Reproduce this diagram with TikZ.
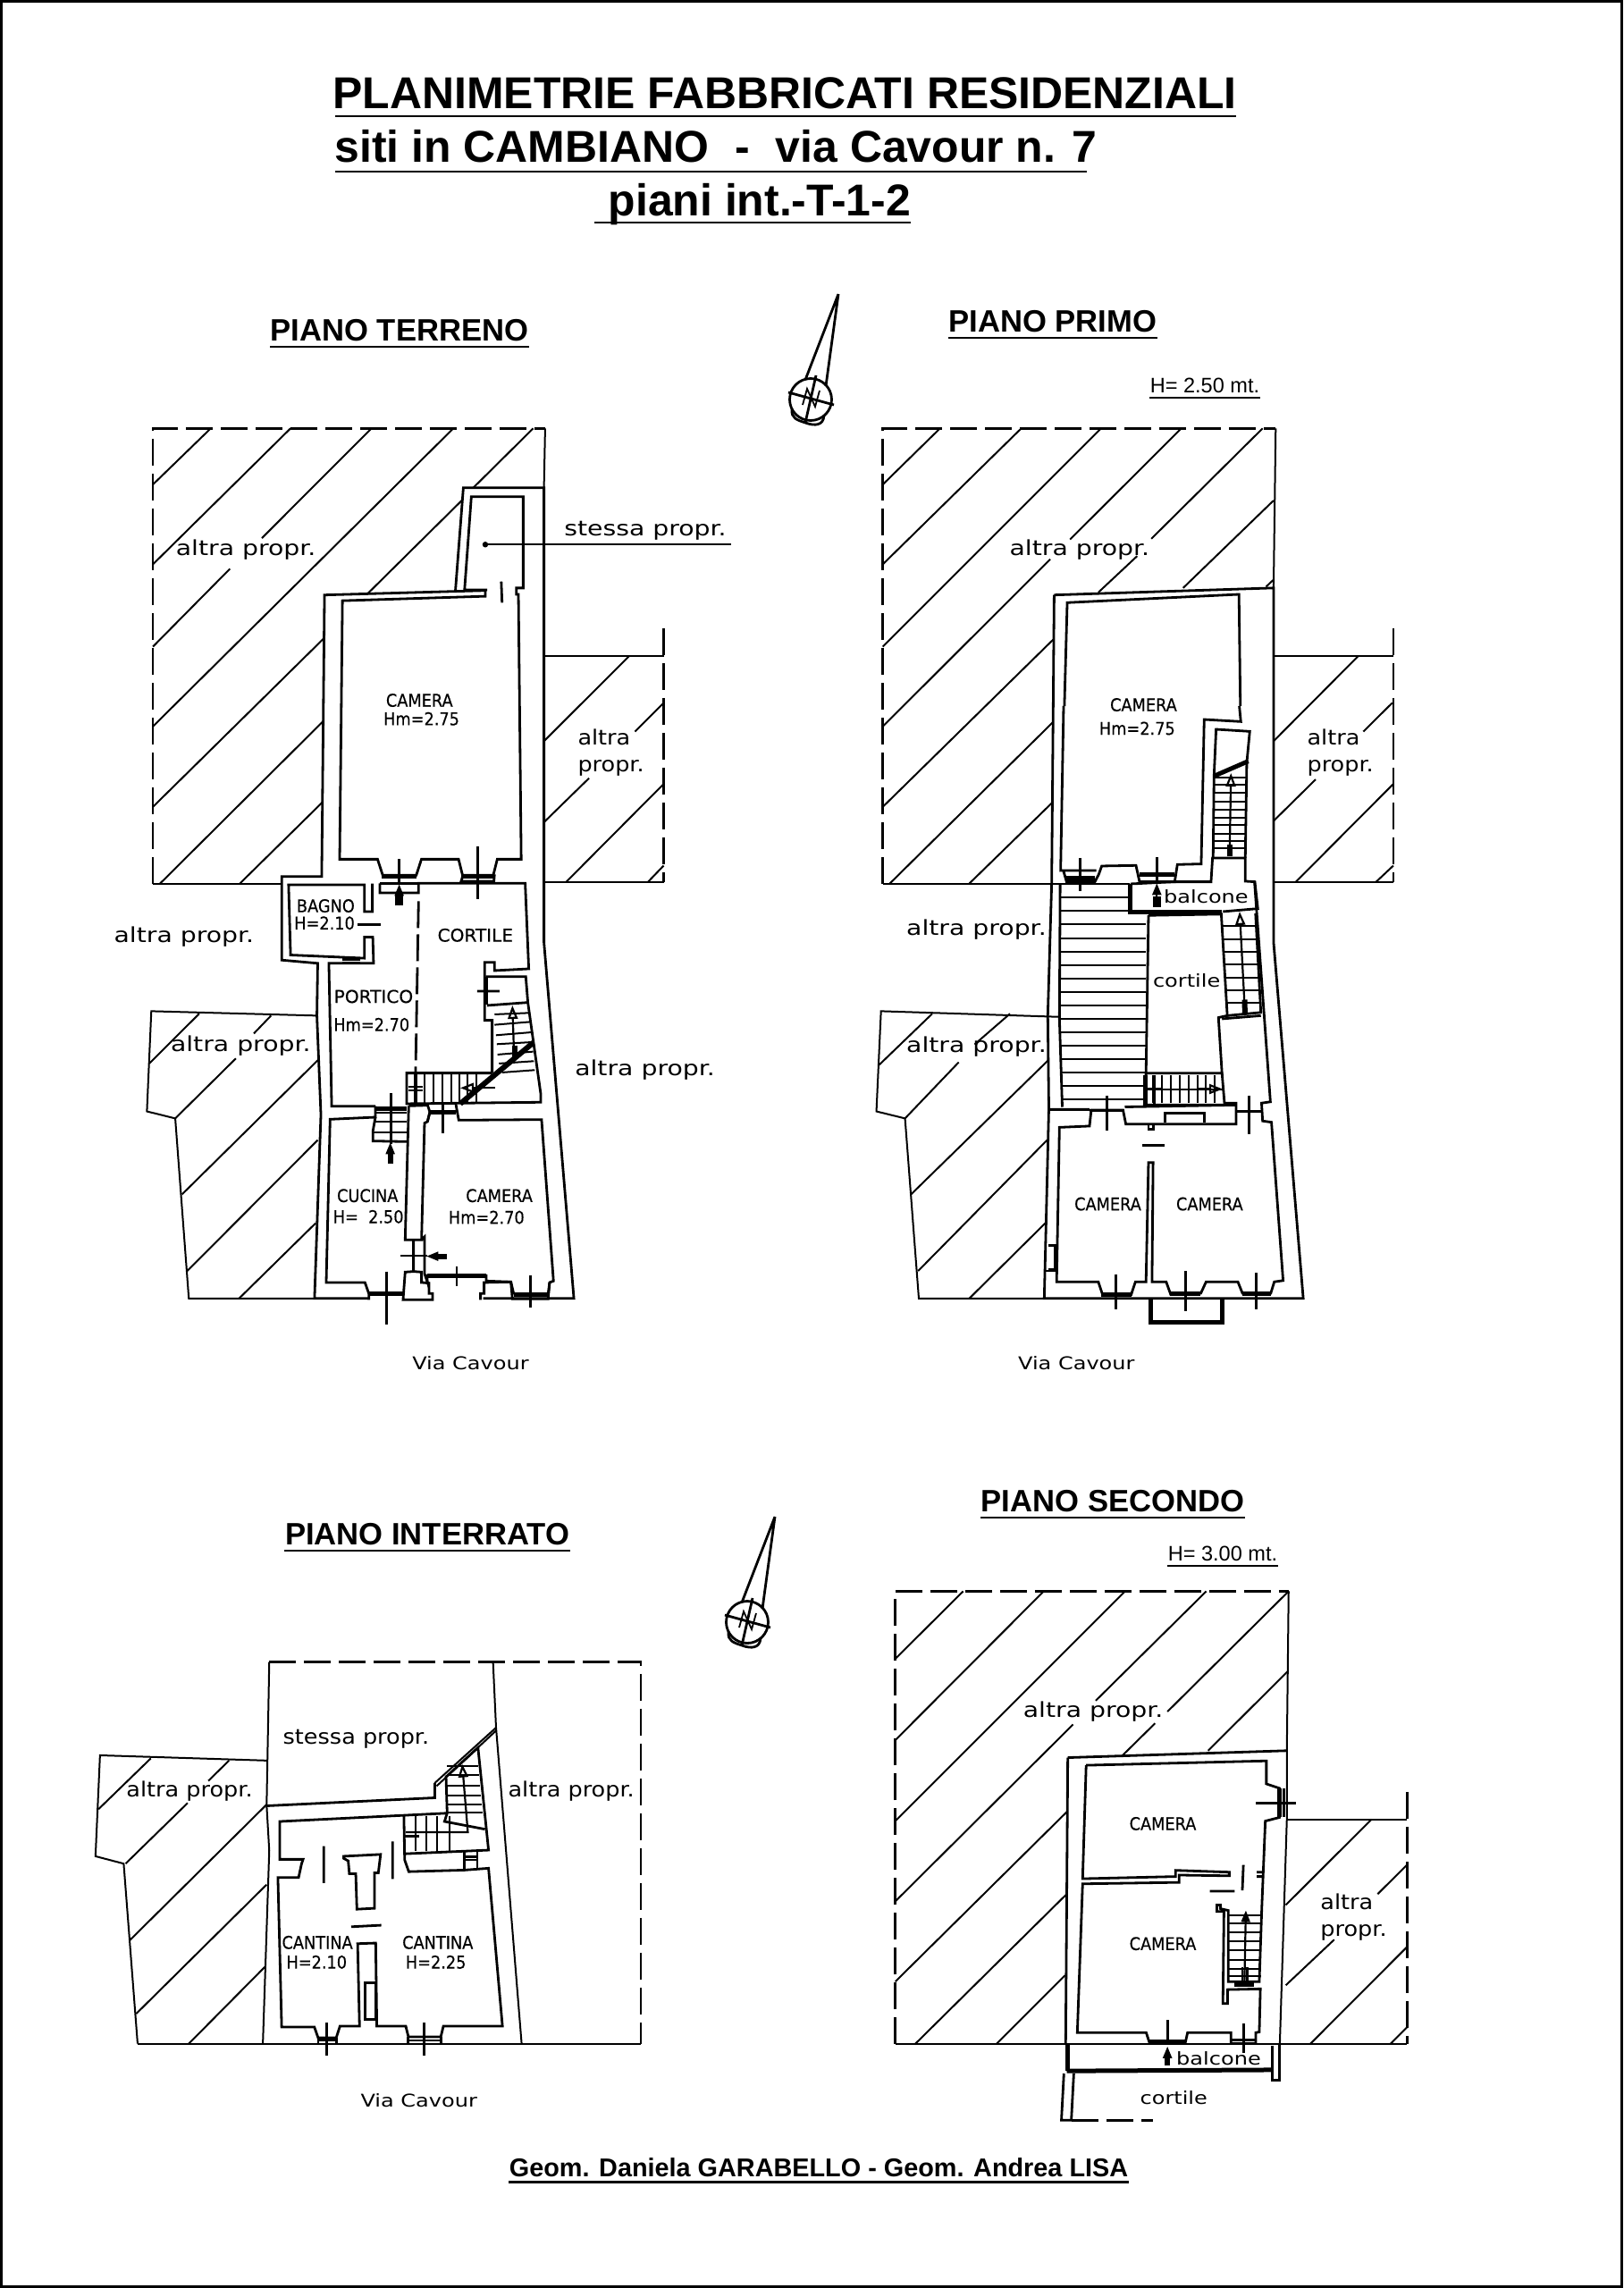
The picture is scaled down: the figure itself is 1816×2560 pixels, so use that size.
\documentclass[tikz,border=0pt]{standalone}
\usepackage{fontspec}
\setmainfont{Liberation Sans}
\newfontfamily\cadlarga[FakeStretch=1.22]{DejaVu Sans}
\newfontfamily\cadmedia[FakeStretch=1.1]{DejaVu Sans}
\newfontfamily\cadcaps[FakeStretch=1.02,FakeBold=0.3]{DejaVu Sans}
\newfontfamily\cadstretta[FakeStretch=0.9,FakeBold=0.3]{DejaVu Sans}
\usetikzlibrary{positioning,arrows.meta}
\tikzset{
  hatch/.style={line width=0.2mm},
  muro/.style={line width=0.28mm, line join=miter},
  spesso/.style={line width=0.5mm},
  confine/.style={line width=0.26mm, dash pattern=on 3mm off 0.9mm},
  scala/.style={line width=0.2mm},
  blocco/.style={line width=0.9mm},
  frecciaV/.style={line width=0.22mm, -{Triangle[open,length=1.5mm,width=1.1mm]}},
  frecciaP/.style={line width=0.22mm, -{Triangle[length=1.3mm,width=1mm]}},
  etic/.style={inner sep=0pt, font=\cadlarga\fontsize{6.6}{7}\selectfont},
  eticM/.style={inner sep=0pt, font=\cadmedia\fontsize{6.6}{7}\selectfont},
  eticP/.style={inner sep=0pt, font=\cadlarga\fontsize{5.6}{6}\selectfont},
  eticC/.style={inner sep=0pt, font=\cadcaps\fontsize{5.6}{6}\selectfont},
  eticS/.style={inner sep=0pt, font=\cadstretta\fontsize{5.6}{6}\selectfont},
  titolo/.style={inner sep=0pt, anchor=base west, font=\bfseries\fontsize{14.2}{16}\selectfont},
  piano/.style={inner sep=0pt, font=\bfseries\fontsize{9.85}{12}\selectfont},
  quota/.style={inner sep=0pt, font=\fontsize{6.7}{8}\selectfont},
}
\newcommand{\nordfreccia}[2]{
  \begin{scope}[shift={(#1,#2)}, line width=0.28mm]
    \draw (938,329) -- (901,425) (938,329) -- (924,432);
    \draw (907,447) circle (23.5);
    \draw (913,420) -- (901,473) (882,439) -- (933,453);
    \draw[line width=0.18mm] (898,453) -- (903,435) -- (912,455) -- (917,437);
    \draw (886,458) .. controls (885,468) and (892,470) .. (901,473) .. controls (912,477) and (921,476) .. (922,465);
  \end{scope}}
\begin{document}
\begin{tikzpicture}[x=0.1mm,y=-0.1mm]
\useasboundingbox (0,0) rectangle (1816,2560);
\draw[line width=0.25mm] (1.5,1.5) rectangle (1814.5,2558.5);

\node[titolo] (tit1) at (372,121) {PLANIMETRIE FABBRICATI RESIDENZIALI};
\node[titolo] (tit2) at (374,181) {siti in CAMBIANO\hspace{0.58em}-\hspace{0.58em}via Cavour n. 7};
\node[titolo] (tit3) at (680,241) {piani int.-T-1-2};
\coordinate (tit3a) at (665,249);
\draw[line width=0.25mm] (375,130) -- (1383,130);
\draw[line width=0.25mm] (375,192) -- (1216,192);
\draw[line width=0.25mm] (tit3a) -- (1019,249);

\node[piano] (pTerreno) at (447,370) {PIANO TERRENO};
\node[piano] (pPrimo) at (1178,360) {PIANO PRIMO};
\node[piano] (pInterrato) at (478,1717) {PIANO INTERRATO};
\node[piano] (pSecondo) at (1245,1680) {PIANO SECONDO};
\node[quota] (h1) at (1348,431) {H= 2.50 mt.};
\node[quota] (h2) at (1368,1738) {H= 3.00 mt.};
\node[piano,font=\bfseries\fontsize{8.2}{10}\selectfont] (firma) at (916,2425) {Geom. Daniela GARABELLO - Geom. Andrea LISA};
\foreach \n in {pTerreno,pPrimo,pInterrato,pSecondo,h1,h2,firma}
  \draw[line width=0.22mm] ([yshift=-1.5]\n.south west) -- ([yshift=-1.5]\n.south east);

\nordfreccia{0}{0}
\nordfreccia{-71}{1368}

% piano terreno
\begin{scope}[shift={(130,440)},x=0.04464mm,y=-0.07143mm]
\draw[confine] (92,768) -- (92,55) -- (1075,55);
\draw[hatch] (92,768) -- (415,768);
\draw[hatch] (1075,55) -- (1072,148);
\draw[hatch] (92,143) -- (237,55) (92,268) -- (437,55) (92,397) -- (285,275) (365,227) -- (640,55)
  (92,522) -- (845,55) (92,648) -- (522,383) (630,314) -- (866,168) (895,148) -- (1045,55)
  (110,768) -- (520,513) (310,768) -- (518,640);
\draw[hatch] (1072,412) -- (1372,412) (1072,766) -- (1372,766);
\draw[confine] (1372,368) -- (1372,766);
\draw[hatch] (1072,545) -- (1285,412) (1072,672) -- (1185,603) (1300,530) -- (1372,485) (1127,766) -- (1372,612) (1332,766) -- (1372,740);
\draw[hatch] (503,975) -- (88,968) -- (77,1125) -- (148,1136) -- (182,1418) -- (497,1418);
\draw[hatch] (83,1050) -- (208,972) (148,1136) -- (300,1042) (345,1003) -- (388,975)
  (165,1255) -- (505,1045) (178,1375) -- (505,1170) (308,1418) -- (500,1300);
% muri esterni
\draw[muro] (850,310) -- (870,148) -- (1072,148) -- (1072,860) -- (1147,1418) -- (920,1418);
\draw[muro] (925,309) -- (522,316) -- (515,757) -- (415,757) -- (415,888) -- (505,893) -- (503,975) -- (513,1130) -- (497,1418) -- (632,1418);
\draw[muro] (925,309) -- (925,318) -- (567,325) -- (560,730) -- (655,730) -- (668,755) -- (752,755) -- (765,730) -- (858,730) -- (868,755) -- (945,755) -- (955,730) -- (1015,730) -- (1008,315) -- (1003,315) -- (1003,305) -- (1020,305) -- (1020,162) -- (890,162) -- (873,308) -- (930,308);
\draw[muro] (965,295) -- (967,328);
% bagno
\draw[muro] (642,768) -- (642,812) -- (622,812) -- (622,770) -- (432,770) -- (437,880) -- (622,885) -- (622,852) -- (643,852) -- (645,893) -- (533,893) -- (540,1117) -- (650,1117);
\draw[muro] (605,832) -- (663,832);
\draw[muro] (709,730) -- (709,770) (906,710) -- (906,793);
\draw[fill=black] (925,237) circle (5.5 and 3.5);
\draw[hatch] (925,237) -- (1540,237);
\node[eticS] (tCam1) at (760,481) {CAMERA};
\node[eticS] (tHm1) at (765,510) {Hm=2.75};
\node[eticS] (tBag) at (525,803) {BAGNO};
\node[eticS] (tH1) at (522,830) {H=2.10};
\node[eticC] (tCor1) at (900,849) {CORTILE};
\node[eticC] (tPor) at (645,945) {PORTICO};
\node[eticS] (tHm2) at (640,989) {Hm=2.70};
\node[eticS] (tCuc) at (630,1257) {CUCINA};
\node[eticS] (tH2) at (632,1290) {H=\ \ 2.50};
\node[eticS] (tCam2) at (960,1257) {CAMERA};
\node[eticS] (tHm3) at (928,1291) {Hm=2.70};
\node[etic] (tSte1) at (1326,215) {stessa propr.};
\node[etic] (tAl1) at (325,245) {altra propr.};
\node[eticM,align=left] (tAl2) at (1240,563) {altra\\[1.5pt]propr.};
\node[etic] (tAl3) at (170,851) {altra propr.};
\node[etic] (tAl4) at (312,1022) {altra propr.};
\node[etic] (tAl5) at (1325,1060) {altra propr.};
\node[eticP] (tVia1) at (888,1520) {Via Cavour};
\end{scope}

% piano terreno, cortile e scale
\begin{scope}[shift={(340,960)},x=0.03333mm,y=-0.03333mm]
\draw[muro] (255,85) -- (255,117) -- (385,117) -- (385,85) -- (743,85) -- (755,372) -- (640,378) -- (640,350) -- (607,350) -- (607,545) -- (632,545) -- (632,722);
\draw[muro] (255,85) -- (385,85);
\draw[muro,dash pattern=on 3mm off 0.7mm] (385,145) -- (375,720);
\draw[scala] (130,335) -- (190,335) (130,343) -- (190,343) (130,350) -- (190,350);
\draw[spesso] (262,62) -- (378,62) (535,62) -- (636,62);
\draw[muro] (535,55) -- (528,78) -- (638,78) -- (640,55);
\draw[frecciaP] (320,160) -- (320,88);
\draw[blocco] (320,160) -- (320,125);
\draw[muro] (610,398) -- (745,398) -- (752,485) -- (795,790) -- (795,820) -- (345,825) -- (345,722) -- (632,722);
\draw[muro] (615,495) -- (752,485) (582,447) -- (657,447);
\draw[line width=0.45mm] (610,400) -- (610,492);
\foreach \xa/\ya/\xb/\yb in {640/525/757/520,640/560/762/550,645/595/765/585,648/625/768/618,650/660/770/650,655/690/772/682,665/720/775/712}
  \draw[scala] (\xa,\ya) -- (\xb,\yb);
\draw[frecciaV] (706,670) -- (700,495);
\draw[blocco,line width=0.6mm] (709,630) -- (709,672);
\draw[line width=0.6mm] (525,825) -- (770,620);
\foreach \x in {405,435,465,495,522,550,580}
  \draw[scala] (\x,722) -- (\x,825);
\draw[line width=0.4mm] (375,722) -- (375,825);
\draw[scala] (350,768) -- (400,768) (350,780) -- (400,780);
\draw[frecciaV] (642,772) -- (525,772);
\end{scope}

% piano terreno, cucina e camera
\begin{scope}[shift={(340,1200)},x=0.03333mm,y=-0.03333mm]
\draw[muro] (240,113) -- (240,150) -- (88,157) -- (75,705) -- (205,705) -- (218,742) -- (218,763);
\draw[spesso] (240,122) -- (345,122);
\draw[scala] (240,135) -- (345,135);
\draw[muro] (240,150) -- (232,195) -- (232,230) -- (345,232);
\draw[scala] (236,165) -- (345,165) (234,200) -- (345,200);
\draw[muro] (292,70) -- (292,240);
\draw[frecciaP] (290,305) -- (290,235);
\draw[blocco,line width=0.6mm] (290,305) -- (290,270);
\draw[muro] (352,112) -- (340,562) -- (395,562) -- (405,170) -- (415,165) -- (423,133) -- (415,108) (510,105) -- (515,133) -- (520,160) -- (798,158) -- (838,700) -- (825,705) -- (820,760) -- (700,760) -- (695,703) -- (612,700) -- (612,682) -- (413,682) -- (415,705) -- (405,675) -- (405,552) -- (395,562);
\draw[muro] (352,112) -- (415,110) (423,133) -- (415,165);
\draw[muro] (368,562) -- (368,668) -- (340,670) -- (333,763) -- (432,763) -- (432,742) -- (420,742) -- (420,707) -- (395,705) -- (395,670) -- (368,668);
\draw[muro] (593,763) -- (593,742) -- (605,742) -- (605,705) -- (695,703) (705,745) -- (695,703) (825,705) -- (820,745);
\draw[muro] (325,615) -- (415,615) (466,100) -- (466,205) (513,652) -- (513,718) (760,680) -- (760,790) (277,668) -- (277,845);
\draw[frecciaP] (480,617) -- (412,617);
\draw[blocco,line width=0.6mm] (480,617) -- (445,617);
\draw[spesso] (423,132) -- (510,132) (218,742) -- (333,742) (415,682) -- (612,682) (705,745) -- (820,745);
\end{scope}

% piano primo
\begin{scope}[shift={(960,440)},x=0.03954mm,y=-0.07143mm]
\draw[confine] (70,768) -- (70,55) -- (1182,55);
\draw[hatch] (70,768) -- (770,768);
\draw[hatch] (1182,55) -- (1176,305);
\draw[hatch] (70,143) -- (232,55) (70,268) -- (462,55) (70,397) -- (688,55) (70,522) -- (544,260) (600,229) -- (915,55)
  (70,648) -- (552,386) (680,312) -- (790,255) (830,228) -- (1145,55) (90,768) -- (552,515) (315,768) -- (552,640)
  (920,305) -- (1176,168) (1155,303) -- (1176,292);
\draw[hatch] (1176,412) -- (1515,412) (1176,766) -- (1515,766);
\draw[confine] (1515,368) -- (1515,766);
\draw[hatch] (1176,545) -- (1415,412) (1176,670) -- (1295,605) (1430,530) -- (1512,485) (1238,766) -- (1515,612) (1465,766) -- (1515,740);
\draw[hatch] (572,977) -- (65,968) -- (52,1125) -- (133,1136) -- (172,1418) -- (527,1418);
\draw[hatch] (60,1052) -- (210,972) (133,1136) -- (285,1048) (330,1020) -- (430,972) (150,1255) -- (538,1045) (170,1375) -- (535,1170) (315,1418) -- (530,1300);
% muri esterni
\draw[muro] (555,316) -- (1176,305) -- (1176,860) -- (1260,1418) -- (527,1418) -- (540,1120) -- (537,975) -- (548,768) -- (555,316);
\draw[muro] (584,490) -- (592,328) -- (1078,315) -- (1082,490);
% scale
\foreach \y in {790,811}
  \draw[scala] (575,\y) -- (770,\y);
\foreach \y in {832,854,875,896,917,938,959,980,1001,1022,1043,1064,1085,1106}
  \draw[scala] (575,\y) -- (814,\y);
\draw[muro] (572,770) -- (570,980) -- (578,1118);
\draw[muro] (822,818) -- (1028,816) -- (1045,975) -- (1020,978) -- (1030,1065) -- (815,1065) -- (822,818);
\draw[muro] (815,1065) -- (810,1118);
\draw[muro] (1125,815) -- (1140,970) -- (1045,975);
\foreach \y/\a/\b in {835/1030/1127,855/1032/1129,875/1034/1131,895/1036/1133,915/1038/1135,935/1040/1137,955/1042/1139}
  \draw[scala] (\a,\y) -- (\b,\y);
\draw[frecciaV] (1095,970) -- (1080,812);
\draw[blocco,line width=0.6mm] (1095,972) -- (1094,950);
\draw[muro] (1122,765) -- (1167,1110) -- (1142,1112) -- (1145,1140) -- (1170,1142) -- (1203,1390) -- (1178,1392) -- (1168,1410) -- (1088,1410) -- (1075,1392) -- (985,1392) -- (970,1410) -- (885,1412) -- (872,1392) -- (832,1392) -- (835,1205) -- (822,1205) -- (815,1392) -- (785,1392) -- (773,1412) -- (692,1412) -- (680,1392) -- (562,1392) -- (570,1150) -- (655,1148) -- (660,1123) -- (750,1123) -- (758,1145) -- (1070,1145) -- (1070,1112) -- (1037,1112) -- (1030,1065);
\draw[muro] (1030,980) -- (1140,975) (812,1115) -- (1037,1115) (543,1122) -- (655,1122) (755,1118) -- (1070,1115);
\draw[scala] (812,1090) -- (1037,1090);
\foreach \x in {835,860,885,910,935,960,985,1010}
  \draw[scala] (\x,1068) -- (\x,1112);
\draw[line width=0.5mm] (812,1068) -- (812,1115);
\draw[muro] (820,1090) -- (860,1090) (838,1068) -- (838,1115);
\draw[frecciaV] (960,1090) -- (1032,1090);
\draw[muro] (1072,1125) -- (1142,1125) (1107,1100) -- (1107,1160);
\draw[muro] (868,1143) -- (868,1128) -- (980,1128) -- (980,1143) (822,1145) -- (822,1153) -- (835,1153) -- (835,1145) (805,1178) -- (868,1178);
\draw[spesso] (688,1412) -- (775,1412) (885,1410) -- (970,1410) (1088,1410) -- (1168,1410);
\draw[muro] (730,1380) -- (730,1435) (928,1375) -- (928,1438) (1127,1378) -- (1127,1435) (705,1100) -- (705,1155) (655,1124) -- (750,1124);
\draw[spesso] (828,1418) -- (828,1455) -- (1030,1455) -- (1030,1418);
\draw[muro] (538,1335) -- (558,1335) -- (558,1372) -- (538,1372) (527,1375) -- (560,1375);
\node[eticS] (pCam1) at (808,488) {CAMERA};
\node[eticS] (pHm) at (790,525) {Hm=2.75};
\node[eticP] (pBal) at (985,788) {balcone};
\node[eticP] (pCor) at (930,920) {cortile};
\node[eticS] (pCam2) at (707,1270) {CAMERA};
\node[eticS] (pCam3) at (995,1270) {CAMERA};
\node[etic] (pAl1) at (627,245) {altra propr.};
\node[eticM,align=left] (pAl2) at (1365,563) {altra\\[1.5pt]propr.};
\node[etic] (pAl3) at (335,840) {altra propr.};
\node[etic] (pAl4) at (335,1023) {altra propr.};
\node[eticP] (pVia) at (618,1520) {Via Cavour};
\end{scope}

% piano primo, camera e balcone
\begin{scope}[shift={(1170,790)},x=0.03333mm,y=-0.03333mm]
\draw[muro] (60,0) -- (50,552) -- (170,552) (60,555) -- (70,590) -- (165,590) -- (178,565) -- (188,537) -- (303,535) -- (315,590) -- (433,590) -- (442,532) -- (522,530) -- (532,45) -- (655,52) -- (650,0);
\draw[muro] (433,590) -- (555,590) -- (560,510) -- (670,510) -- (670,588) -- (702,590) -- (712,680) -- (595,690);
\draw[muro] (285,597) -- (433,590);
\draw[spesso] (65,578) -- (165,578) (315,567) -- (433,567) (285,597) -- (285,692) -- (590,692);
\draw[muro] (115,510) -- (115,622) (373,507) -- (373,595);
\draw[frecciaP] (373,675) -- (373,595);
\draw[blocco,line width=0.5mm] (368,675) -- (368,640) (380,675) -- (380,640);
\draw[muro] (565,235) -- (572,78) -- (685,85) -- (675,190) -- (670,510) (565,235) -- (562,508);
\draw[line width=0.5mm] (565,235) -- (680,185);
\foreach \y in {240,265,290,320,348,375,400,428,453,478}
  \draw[scala] (565,\y) -- (675,\y);
\draw[frecciaV] (618,465) -- (622,225);
\draw[blocco,line width=0.6mm] (618,505) -- (618,465);
\end{scope}

% piano interrato
\begin{scope}[shift={(90,1840)},x=0.04209mm,y=-0.03444mm]
\draw[confine] (502,57) -- (1490,57) -- (1490,1297);
\draw[hatch] (152,1297) -- (1490,1297);
\draw[hatch] (502,57) -- (495,522) -- (502,670) -- (485,1297);
\draw[hatch] (1097,57) -- (1105,270) -- (1173,1297);
\draw[hatch] (495,377) -- (52,360) -- (40,688) -- (115,712) -- (152,1297);
\draw[hatch] (48,535) -- (187,370) (120,712) -- (285,515) (340,443) -- (395,377) (132,960) -- (495,520) (148,1200) -- (495,780) (288,1297) -- (490,1048);
\draw[muro] (497,524) -- (942,498) -- (942,450);
\draw[scala] (942,450) -- (1105,270) (947,460) -- (1105,280);
\draw[muro] (975,548) -- (530,575) -- (530,698) -- (592,698) -- (588,712) -- (580,757) -- (525,757) -- (535,1243) -- (622,1243) -- (632,1278) -- (680,1278) -- (690,1240) -- (742,1240) -- (737,972) -- (785,970) -- (788,1240) -- (865,1240) -- (872,1275) -- (958,1275) -- (965,1240) -- (1122,1240) -- (1085,727) -- (1020,733) -- (873,738) -- (862,700) -- (860,558);
\draw[muro] (862,680) -- (1085,668) -- (1057,335) -- (972,430) -- (975,548) -- (968,575) -- (1075,600);
\foreach \y/\b in {395/1058,425/1060,460/1062,490/1065,520/1067,545/1070}
  \draw[scala] (975,\y) -- (\b,\y);
\foreach \x in {890,920,948,982}
  \draw[scala] (\x,558) -- (\x,672);
\draw[frecciaV] (865,610) -- (1030,610) -- (1015,388);
\draw[muro] (862,622) -- (900,622);
\draw[muro] (1020,672) -- (1020,733) (1055,672) -- (1055,727) (1020,690) -- (1055,690) (1020,700) -- (1055,700);
\draw[muro] (647,655) -- (647,775) (830,640) -- (830,762) (720,917) -- (800,912);
\draw[muro] (700,688) -- (798,682) -- (792,742) -- (782,742) -- (782,857) -- (735,860) -- (732,745) -- (715,745) -- (712,703) -- (700,695) -- cycle;
\draw[muro] (757,1100) -- (785,1100) -- (785,1218) -- (757,1218) -- cycle;
\draw[muro] (655,1228) -- (655,1335) (913,1228) -- (913,1335) (632,1278) -- (680,1278) (632,1278) -- (632,1297) (680,1278) -- (680,1297) (870,1275) -- (958,1275) (870,1275) -- (870,1297) (958,1275) -- (958,1297);
\draw[scala] (632,1287) -- (680,1287) (870,1285) -- (958,1285);
\node[eticM] (iSte) at (733,308) {stessa propr.};
\node[eticM] (iAl1) at (290,477) {altra propr.};
\node[eticM] (iAl2) at (1305,477) {altra propr.};
\node[eticS] (iCan1) at (630,968) {CANTINA};
\node[eticS] (iH1) at (628,1032) {H=2.10};
\node[eticS] (iCan2) at (950,968) {CANTINA};
\node[eticS] (iH2) at (945,1032) {H=2.25};
\node[eticP] (iVia) at (900,1480) {Via Cavour};
\end{scope}

% piano secondo
\begin{scope}[shift={(980,1760)},x=0.03954mm,y=-0.04082mm]
\draw[confine] (55,1292) -- (55,50) -- (1168,50);
\draw[hatch] (55,1292) -- (1503,1292);
\draw[hatch] (1168,50) -- (1163,487) -- (1163,675) -- (1143,1292);
\draw[hatch] (1163,675) -- (1503,675);
\draw[confine] (1503,600) -- (1503,1292);
\draw[hatch] (55,235) -- (247,50) (55,458) -- (475,50) (55,680) -- (705,50) (55,900) -- (558,415) (622,350) -- (935,50)
  (55,1120) -- (540,655) (700,498) -- (790,412) (825,380) -- (1168,50) (110,1292) -- (540,880) (340,1292) -- (535,1103) (940,487) -- (1165,270);
\draw[hatch] (1160,910) -- (1403,675) (1160,1130) -- (1297,1005) (1420,880) -- (1503,800) (1228,1292) -- (1503,1025) (1455,1292) -- (1503,1245);
\draw[muro] (543,506) -- (1163,487) (543,506) -- (537,1292);
\draw[muro] (595,527) -- (1105,515) -- (1105,578) -- (1142,590) -- (1142,670) -- (1102,680) -- (1092,920) -- (1085,1120) -- (997,1120) -- (997,925) -- (975,920) -- (975,910) -- (965,910) -- (965,928) -- (985,928) -- (982,1180) -- (995,1180) -- (995,1142) -- (1088,1140) -- (1085,1258) -- (1075,1260) -- (1075,1290) -- (1005,1290) -- (1005,1260) -- (882,1260) -- (875,1290) -- (775,1290) -- (765,1260) -- (570,1260) -- (585,852) -- (858,848) -- (858,828) -- (1000,830) -- (1000,820) -- (848,815) -- (848,832) -- (585,838) -- (595,527);
\draw[muro] (1078,820) -- (1098,820) (1078,832) -- (1095,832) (1040,800) -- (1037,870) (945,872) -- (1015,872);
\draw[spesso] (1142,590) -- (1142,670);
\draw[muro] (1155,590) -- (1155,670) (1075,630) -- (1190,630);
\foreach \y in {938,960,985,1010,1035,1060,1085,1105}
  \draw[scala] (997,\y) -- (1090,\y);
\draw[frecciaP] (1043,1120) -- (1047,925);
\draw[spesso] (1015,1128) -- (1070,1128);
\draw[muro] (1037,1080) -- (1037,1120) (1050,1080) -- (1050,1120);
\draw[muro] (1040,1235) -- (1040,1315) (1005,1280) -- (1075,1280) (825,1225) -- (825,1290);
\draw[spesso] (775,1285) -- (875,1285);
\draw[frecciaP] (825,1350) -- (825,1298);
\draw[blocco,line width=0.6mm] (825,1350) -- (825,1320);
\draw[muro] (540,1292) -- (540,1365) (545,1292) -- (545,1365);
\draw[spesso] (540,1365) -- (1122,1362);
\draw[muro] (1122,1295) -- (1122,1390) -- (1143,1390) -- (1143,1292);
\draw[muro] (532,1372) -- (525,1500) -- (553,1500) -- (560,1372);
\draw[confine] (555,1500) -- (785,1500);
\node[etic] (sAl1) at (615,380) {altra propr.};
\node[eticS] (sCam1) at (812,687) {CAMERA};
\node[eticS] (sCam2) at (812,1016) {CAMERA};
\node[eticM,align=left] (sAl2) at (1352,943) {altra\\[1.5pt]propr.};
\node[eticP] (sBal) at (970,1330) {balcone};
\node[eticP] (sCor) at (843,1438) {cortile};
\end{scope}
\end{tikzpicture}
\end{document}
